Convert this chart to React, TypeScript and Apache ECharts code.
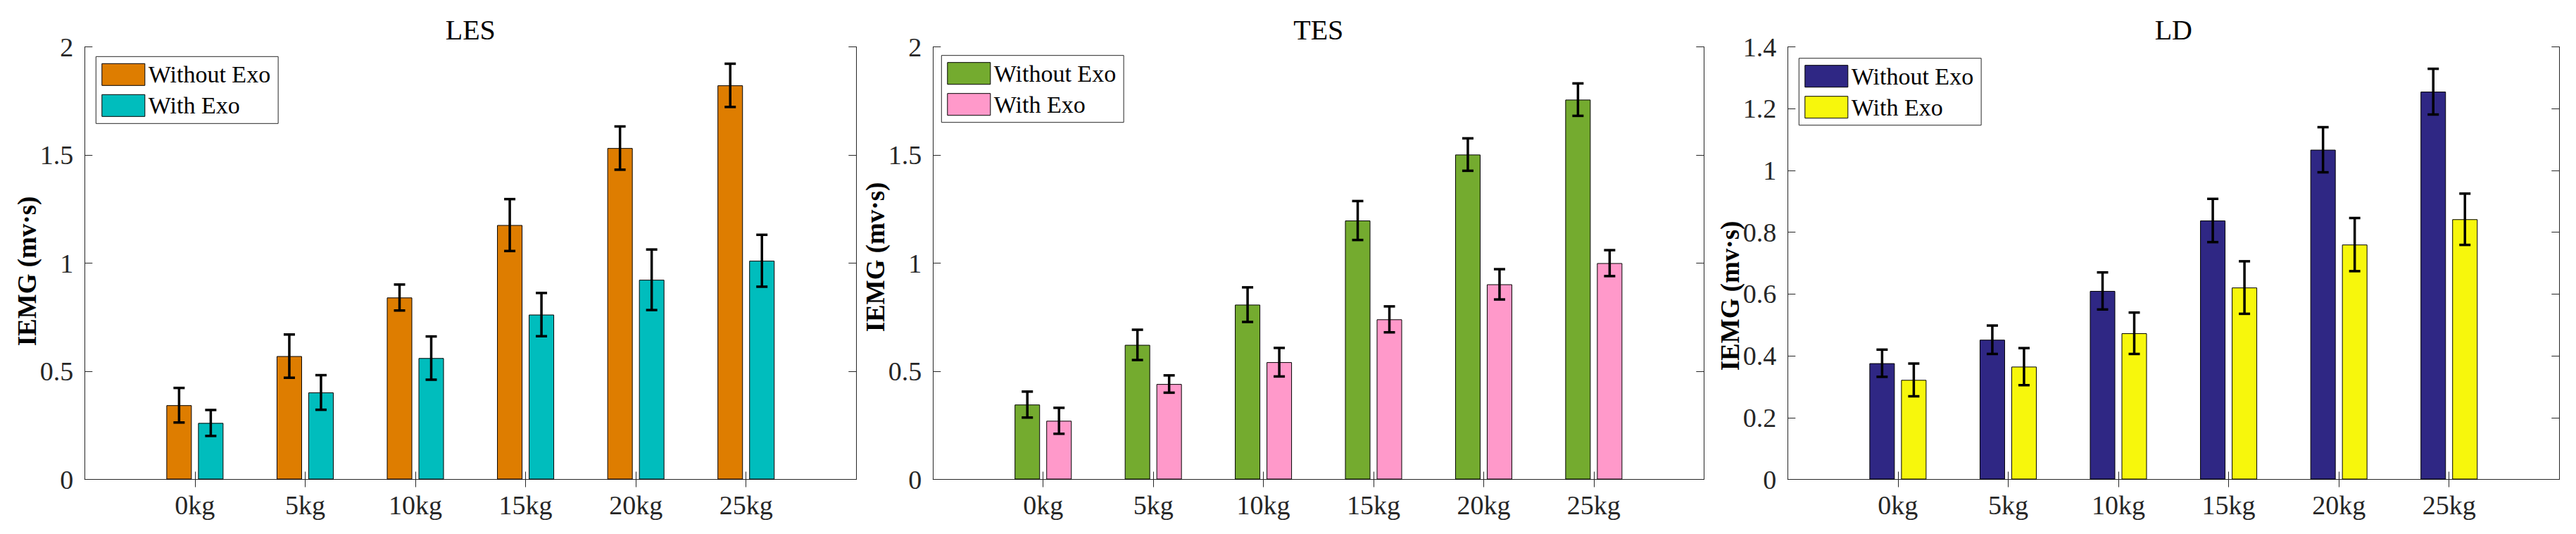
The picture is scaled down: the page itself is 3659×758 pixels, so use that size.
import { useEffect, useRef } from "react";
import * as echarts from "echarts";

// ---------- data ----------
const categories = ["0kg", "5kg", "10kg", "15kg", "20kg", "25kg"];
const seriesNames = ["Without Exo", "With Exo"];

const lesWithout = [0.343, 0.57, 0.841, 1.176, 1.532, 1.822];
const lesWithoutErr = [0.08, 0.1, 0.06, 0.12, 0.1, 0.1];
const lesWith = [0.261, 0.402, 0.561, 0.762, 0.923, 1.011];
const lesWithErr = [0.06, 0.08, 0.1, 0.1, 0.14, 0.12];

const tesWithout = [0.346, 0.622, 0.808, 1.197, 1.502, 1.756];
const tesWithoutErr = [0.06, 0.07, 0.08, 0.09, 0.075, 0.075];
const tesWith = [0.271, 0.441, 0.542, 0.74, 0.902, 1.0];
const tesWithErr = [0.06, 0.04, 0.066, 0.06, 0.07, 0.06];

const ldWithout = [0.376, 0.452, 0.61, 0.838, 1.067, 1.255];
const ldWithoutErr = [0.044, 0.046, 0.06, 0.07, 0.073, 0.074];
const ldWith = [0.322, 0.365, 0.473, 0.621, 0.76, 0.842];
const ldWithErr = [0.053, 0.06, 0.067, 0.085, 0.086, 0.083];

const panelTitles = ["LES", "TES", "LD"];
const yMax = [2, 2, 1.4];
const yInterval = [0.5, 0.5, 0.2];
const yAxisTitle = "IEMG (mv·s)";

// ---------- styling / layout ----------
const FONT = "Liberation Serif, serif";
const AXIS_COLOR = "#262626";
const BAR_WIDTH = 36;
const BAR_GAP_PX = 9;
const OFFSET = (BAR_WIDTH + BAR_GAP_PX) / 2;

const panels = [
  {
    left: 120.3, width: 1096, color: ["#DE7D00", "#00BDBD"],
    values: [lesWithout, lesWith], errs: [lesWithoutErr, lesWithErr],
    legend: { left: 136.3, top: 80.3 }, ylabel: { y: 385 },
  },
  {
    left: 1325.3, width: 1095, color: ["#74AB2F", "#FF99CA"],
    values: [tesWithout, tesWith], errs: [tesWithoutErr, tesWithErr],
    legend: { left: 1337.3, top: 78.7 }, ylabel: { y: 365 },
  },
  {
    left: 2539.3, width: 1096, color: ["#2F2784", "#F7F70C"],
    values: [ldWithout, ldWith], errs: [ldWithoutErr, ldWithErr],
    legend: { left: 2555.3, top: 82.7 }, ylabel: { y: 420 },
  },
];
const GRID_TOP = 66.5;
const GRID_HEIGHT = 614;

export default function App() {
  const ref = useRef<HTMLDivElement>(null);

  useEffect(() => {
    document.body.style.margin = "0";
    if (!ref.current) return;
    const chart = echarts.init(ref.current, undefined, { renderer: "svg" });

    const axisData = ["", ...categories, ""];
    const grid: any[] = [];
    const xAxis: any[] = [];
    const yAxis: any[] = [];
    const series: any[] = [];
    const legend: any[] = [];
    const graphic: any[] = [];

    panels.forEach((p, k) => {
      grid.push({ left: p.left, top: GRID_TOP, width: p.width, height: GRID_HEIGHT });
      const xBase = {
        type: "category",
        gridIndex: k,
        data: axisData,
        boundaryGap: false,
        axisLine: { show: true, lineStyle: { color: AXIS_COLOR, width: 1 } },
        axisTick: {
          show: true, inside: true, length: 11,
          interval: (i: number) => i > 0 && i < axisData.length - 1,
          lineStyle: { color: AXIS_COLOR, width: 1 },
        },
        splitLine: { show: false },
      };
      xAxis.push({
        ...xBase,
        position: "bottom",
        axisLabel: { show: true, interval: 0, margin: 17, fontSize: 38, fontFamily: FONT, color: AXIS_COLOR },
      });
      xAxis.push({ ...xBase, position: "top", axisLabel: { show: false } });

      const yBase = {
        type: "value",
        gridIndex: k,
        min: 0,
        max: yMax[k],
        interval: yInterval[k],
        axisLine: { show: true, lineStyle: { color: AXIS_COLOR, width: 1 } },
        axisTick: { show: true, inside: true, length: 11, lineStyle: { color: AXIS_COLOR, width: 1 } },
        splitLine: { show: false },
      };
      yAxis.push({
        ...yBase,
        position: "left",
        axisLabel: { show: true, margin: 16, fontSize: 38, fontFamily: FONT, color: AXIS_COLOR },
      });
      yAxis.push({ ...yBase, position: "right", axisLabel: { show: false } });

      const legendNames: string[] = [];
      [0, 1].forEach((s) => {
        const name = `${panelTitles[k]}|${seriesNames[s]}`;
        legendNames.push(name);
        series.push({
          type: "bar",
          name,
          xAxisIndex: k * 2,
          yAxisIndex: k * 2,
          barWidth: BAR_WIDTH,
          barGap: `${(BAR_GAP_PX / BAR_WIDTH) * 100}%`,
          itemStyle: { color: p.color[s], borderColor: "#000", borderWidth: 1 },
          data: categories.map((c, i) => [c, p.values[s][i]]),
          z: 2,
        });
      });
      [0, 1].forEach((s) => {
        series.push({
          type: "custom",
          name: `${panelTitles[k]} err ${s}`,
          xAxisIndex: k * 2,
          yAxisIndex: k * 2,
          z: 5,
          silent: true,
          encode: { x: 0, y: 1 },
          data: categories.map((c, i) => [i + 1, p.values[s][i], p.errs[s][i], s === 0 ? -1 : 1]),
          renderItem: (params: any, api: any) => {
            const x = api.value(0);
            const m = api.value(1);
            const e = api.value(2);
            const off = api.value(3) * OFFSET;
            const top = api.coord([x, m + e]);
            const bot = api.coord([x, m - e]);
            const cx = top[0] + off;
            const st = { stroke: "#000", lineWidth: 3.5 };
            return {
              type: "group",
              children: [
                { type: "line", shape: { x1: cx, y1: top[1], x2: cx, y2: bot[1] }, style: st },
                { type: "line", shape: { x1: cx - 8, y1: top[1], x2: cx + 8, y2: top[1] }, style: st },
                { type: "line", shape: { x1: cx - 8, y1: bot[1], x2: cx + 8, y2: bot[1] }, style: st },
              ],
            };
          },
        });
      });

      legend.push({
        data: legendNames,
        orient: "vertical",
        left: p.legend.left,
        top: p.legend.top,
        itemWidth: 61,
        itemHeight: 31,
        itemGap: 10,
        padding: [8.5, 11, 8.5, 8],
        borderColor: AXIS_COLOR,
        borderWidth: 1,
        backgroundColor: "#fff",
        icon: "rect",
        selectedMode: false,
        formatter: (n: string) => n.split("|")[1],
        itemStyle: { borderColor: "#000", borderWidth: 1 },
        textStyle: { fontSize: 34, lineHeight: 31, fontFamily: FONT, color: "#000" },
      });

      graphic.push({
        type: "text",
        x: p.left + p.width / 2,
        y: 42,
        style: {
          text: panelTitles[k],
          fontSize: 40,
          fontFamily: FONT,
          fill: "#000",
          align: "center",
          verticalAlign: "middle",
        },
      });
      graphic.push({
        type: "text",
        x: p.left - 82,
        y: p.ylabel.y,
        rotation: Math.PI / 2,
        style: {
          text: yAxisTitle,
          fontSize: 37,
          fontWeight: "bold",
          fontFamily: FONT,
          fill: "#000",
          align: "center",
          verticalAlign: "middle",
        },
      });
    });

    chart.setOption({
      animation: false,
      backgroundColor: "#fff",
      grid,
      xAxis,
      yAxis,
      series,
      legend,
      graphic,
    });

    return () => chart.dispose();
  }, []);

  return <div ref={ref} style={{ width: 3659, height: 758 }} />;
}
